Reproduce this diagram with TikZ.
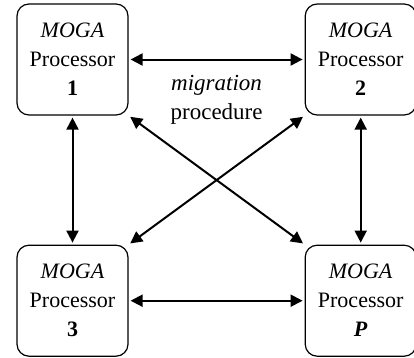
\documentclass[tikz,border=0pt]{standalone}
\usepackage{fontspec}
\setmainfont{Liberation Serif}
\usepackage{tikz}
\usetikzlibrary{arrows.meta,positioning}

\begin{document}
\begin{tikzpicture}[
  node distance=129bp and 176bp,
  proc/.style={
    rectangle,
    rounded corners=12bp,
    draw=black,
    line width=1.2bp,
    align=center,
    inner sep=0pt,
    minimum width=111bp,
    minimum height=111bp,
    font=\fontsize{22bp}{29bp}\selectfont
  },
  rel/.style={{Triangle[length=12bp,width=12bp]}-{Triangle[length=12bp,width=12bp]},
    line width=2bp, shorten <=2bp, shorten >=2bp}
]
\useasboundingbox (0,0) rectangle (414bp,-358bp);
\node[proc] (p1) at (72.5bp,-59.5bp) {\textit{MOGA}\\Processor\\\textbf{1}};
\node[proc, right=of p1] (p2) {\textit{MOGA}\\Processor\\\textbf{2}};
\node[proc, below=of p1] (p3) {\textit{MOGA}\\Processor\\\textbf{3}};
\node[proc, right=of p3] (pP) {\textit{MOGA}\\Processor\\\textbf{\textit{P}}};

\draw[rel] (p1) -- node[below=15bp, inner sep=0pt, align=center,
  font=\fontsize{23bp}{29bp}\selectfont] (mig) {\textit{migration}\\procedure} (p2);
\draw[rel] (p3) -- (pP);
\draw[rel] (p1) -- (p3);
\draw[rel] (p2) -- (pP);
\draw[rel] (p1.south east) -- (pP.north west);
\draw[rel] (p2.south west) -- (p3.north east);
\end{tikzpicture}
\end{document}
